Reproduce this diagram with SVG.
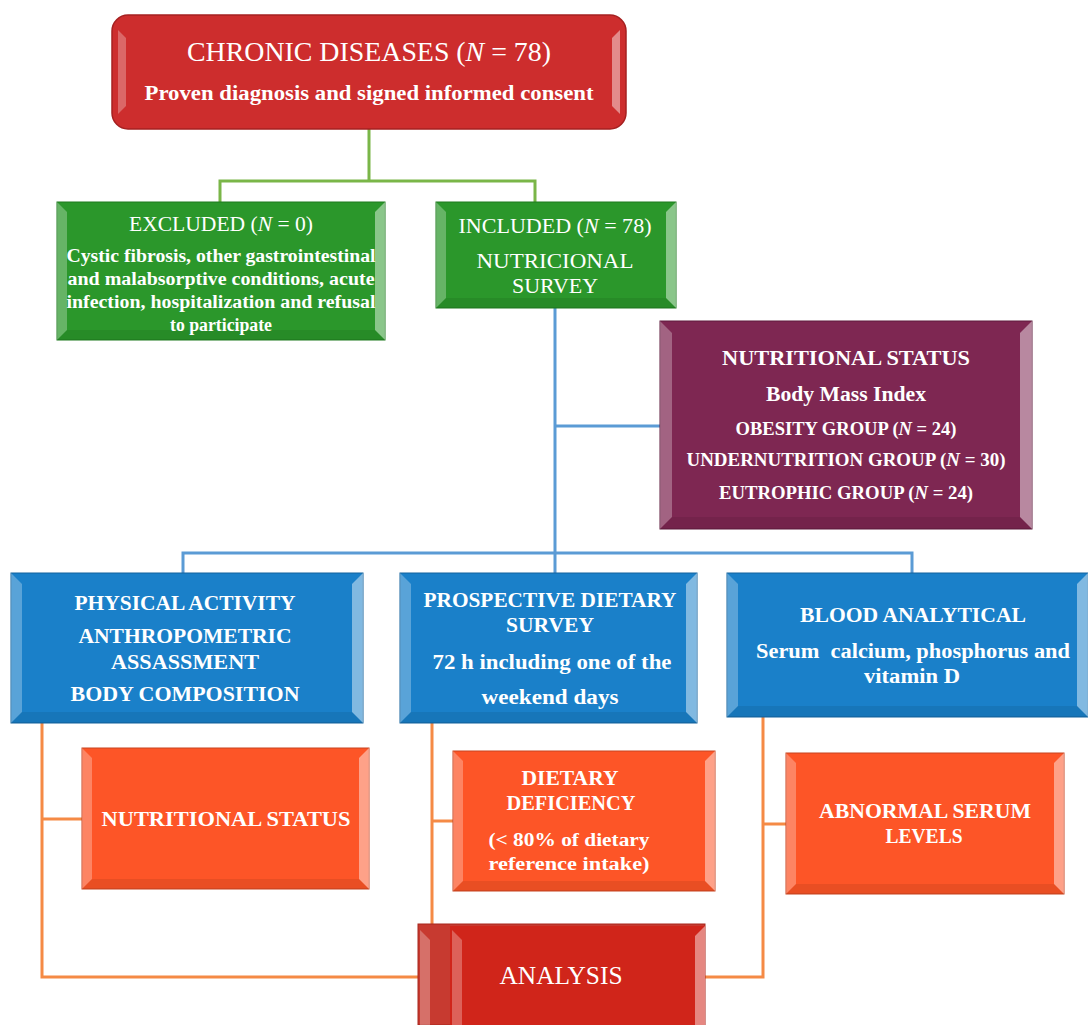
<svg xmlns="http://www.w3.org/2000/svg" width="1088" height="1025" viewBox="0 0 1088 1025">
<style>
.t{font-family:"Liberation Serif","Times New Roman",serif;fill:#fff;text-anchor:middle;font-weight:bold}
.n{font-weight:normal}
.i{font-style:italic}
.bl{fill:#fff;fill-opacity:0.28}
.br{fill:#fff;fill-opacity:0.45}
.bb{fill:#000;fill-opacity:0.08}
.cg{stroke:#7ab648;stroke-width:3;fill:none}
.cb{stroke:#5b9bd5;stroke-width:3;fill:none}
.co{stroke:#f58a45;stroke-width:3;fill:none}
</style>
<rect width="1088" height="1025" fill="#fff"/>
<g id="connectors">
<path class="cg" d="M369 129V181M220 204V181H535V204"/>
<path class="cb" d="M555 308V553M555 426H661M183 574V553H912V574M555 553V574"/>
<path class="co" d="M42 723V977H420M42 819H83M432 723V930M432 821H454M763 717V977H705M763 824H787"/>
</g>
<g id="chronic">
<rect x="112" y="15" width="514" height="114" rx="16" fill="#cd2d2d" stroke="#a52020" stroke-width="1.5"/>
<path d="M118 30 L126 38 V106 L118 114Z" class="bl"/>
<path d="M620 30 L612 38 V106 L620 114Z" class="br"/>
<text class="t n" x="369" y="61" font-size="27" textLength="364" lengthAdjust="spacingAndGlyphs">CHRONIC DISEASES (<tspan class="i">N</tspan> = 78)</text>
<text class="t" x="369" y="100" font-size="20.5" textLength="449" lengthAdjust="spacingAndGlyphs">Proven diagnosis and signed informed consent</text>
</g>
<g id="excluded">
<rect x="57" y="202" width="328" height="138" fill="#2b972b" stroke="#1f7a1f"/>
<path d="M57 202 L67 212 V330 L57 340Z" class="bl"/>
<path d="M385 202 L375 212 V330 L385 340Z" class="br"/>
<path d="M57 340 L67 330 H375 L385 340Z" class="bb"/>
<text class="t n" x="221" y="231" font-size="20.5" textLength="184" lengthAdjust="spacingAndGlyphs">EXCLUDED (<tspan class="i">N</tspan> = 0)</text>
<text class="t" x="221" y="262" font-size="18" textLength="309" lengthAdjust="spacingAndGlyphs">Cystic fibrosis, other gastrointestinal</text>
<text class="t" x="221" y="285" font-size="18" textLength="307" lengthAdjust="spacingAndGlyphs">and malabsorptive conditions, acute</text>
<text class="t" x="221" y="308" font-size="18" textLength="309" lengthAdjust="spacingAndGlyphs">infection, hospitalization and refusal</text>
<text class="t" x="221" y="331" font-size="18" textLength="102" lengthAdjust="spacingAndGlyphs">to participate</text>
</g>
<g id="included">
<rect x="436" y="202" width="240" height="106" fill="#2b972b" stroke="#1f7a1f"/>
<path d="M436 202 L446 212 V298 L436 308Z" class="bl"/>
<path d="M676 202 L666 212 V298 L676 308Z" class="br"/>
<path d="M436 308 L446 298 H666 L676 308Z" class="bb"/>
<text class="t n" x="555" y="233" font-size="20.5" textLength="193" lengthAdjust="spacingAndGlyphs">INCLUDED (<tspan class="i">N</tspan> = 78)</text>
<text class="t n" x="555" y="268" font-size="20.5" textLength="157" lengthAdjust="spacingAndGlyphs">NUTRICIONAL</text>
<text class="t n" x="555" y="293" font-size="20.5" textLength="86" lengthAdjust="spacingAndGlyphs">SURVEY</text>
</g>
<g id="nutritional-status">
<rect x="660" y="321" width="372" height="208" fill="#7e2752" stroke="#5e1a3c"/>
<path d="M660 321 L672 333 V517 L660 529Z" class="bl"/>
<path d="M1032 321 L1020 333 V517 L1032 529Z" class="br"/>
<path d="M660 529 L672 517 H1020 L1032 529Z" class="bb"/>
<text class="t" x="846" y="365" font-size="20.5" textLength="248" lengthAdjust="spacingAndGlyphs">NUTRITIONAL STATUS</text>
<text class="t" x="846" y="401" font-size="20.5" textLength="160" lengthAdjust="spacingAndGlyphs">Body Mass Index</text>
<text class="t" x="846" y="435" font-size="18" textLength="221" lengthAdjust="spacingAndGlyphs">OBESITY GROUP (<tspan class="i">N</tspan> = 24)</text>
<text class="t" x="846" y="466" font-size="18" textLength="319" lengthAdjust="spacingAndGlyphs">UNDERNUTRITION GROUP (<tspan class="i">N</tspan> = 30)</text>
<text class="t" x="846" y="499" font-size="18" textLength="254" lengthAdjust="spacingAndGlyphs">EUTROPHIC GROUP (<tspan class="i">N</tspan> = 24)</text>
</g>
<g id="physical">
<rect x="11" y="573" width="352" height="150" fill="#1a80c9" stroke="#13639e"/>
<path d="M11 573 L22 584 V712 L11 723Z" class="bl"/>
<path d="M363 573 L352 584 V712 L363 723Z" class="br"/>
<path d="M11 723 L22 712 H352 L363 723Z" class="bb"/>
<text class="t" x="185" y="610" font-size="20.5" textLength="221" lengthAdjust="spacingAndGlyphs">PHYSICAL ACTIVITY</text>
<text class="t" x="185" y="643" font-size="20.5" textLength="213" lengthAdjust="spacingAndGlyphs">ANTHROPOMETRIC</text>
<text class="t" x="185" y="669" font-size="20.5" textLength="148" lengthAdjust="spacingAndGlyphs">ASSASSMENT</text>
<text class="t" x="185" y="701" font-size="20.5" textLength="229" lengthAdjust="spacingAndGlyphs">BODY COMPOSITION</text>
</g>
<g id="dietary-survey">
<rect x="400" y="573" width="297" height="150" fill="#1a80c9" stroke="#13639e"/>
<path d="M400 573 L411 584 V712 L400 723Z" class="bl"/>
<path d="M697 573 L686 584 V712 L697 723Z" class="br"/>
<path d="M400 723 L411 712 H686 L697 723Z" class="bb"/>
<text class="t" x="550" y="607" font-size="20.5" textLength="253" lengthAdjust="spacingAndGlyphs">PROSPECTIVE DIETARY</text>
<text class="t" x="550" y="632" font-size="20.5" textLength="88" lengthAdjust="spacingAndGlyphs">SURVEY</text>
<text class="t" x="552" y="669" font-size="20.5" textLength="239" lengthAdjust="spacingAndGlyphs">72 h including one of the</text>
<text class="t" x="550" y="704" font-size="20.5" textLength="137" lengthAdjust="spacingAndGlyphs">weekend days</text>
</g>
<g id="blood">
<rect x="727" y="573" width="361" height="144" fill="#1a80c9" stroke="#13639e"/>
<path d="M727 573 L738 584 V706 L727 717Z" class="bl"/>
<path d="M1088 573 L1077 584 V706 L1088 717Z" class="br"/>
<path d="M727 717 L738 706 H1077 L1088 717Z" class="bb"/>
<text class="t" x="913" y="622" font-size="20.5" textLength="226" lengthAdjust="spacingAndGlyphs">BLOOD ANALYTICAL</text>
<text class="t" x="913" y="658" font-size="20.5" textLength="314" lengthAdjust="spacingAndGlyphs" style="white-space:pre">Serum  calcium, phosphorus and</text>
<text class="t" x="912" y="683" font-size="20.5" textLength="96" lengthAdjust="spacingAndGlyphs">vitamin D</text>
</g>
<g id="ns-outcome">
<rect x="82" y="748" width="287" height="141" fill="#fd5527" stroke="#c84520"/>
<path d="M82 748 L92 758 V879 L82 889Z" class="bl"/>
<path d="M369 748 L359 758 V879 L369 889Z" class="br"/>
<path d="M82 889 L92 879 H359 L369 889Z" class="bb"/>
<text class="t" x="226" y="826" font-size="20.5" textLength="249" lengthAdjust="spacingAndGlyphs">NUTRITIONAL STATUS</text>
</g>
<g id="dietary-deficiency">
<rect x="453" y="751" width="262" height="140" fill="#fd5527" stroke="#c84520"/>
<path d="M453 751 L463 761 V881 L453 891Z" class="bl"/>
<path d="M715 751 L705 761 V881 L715 891Z" class="br"/>
<path d="M453 891 L463 881 H705 L715 891Z" class="bb"/>
<text class="t" x="570" y="785" font-size="20.5" textLength="97" lengthAdjust="spacingAndGlyphs">DIETARY</text>
<text class="t" x="571" y="810" font-size="20.5" textLength="129" lengthAdjust="spacingAndGlyphs">DEFICIENCY</text>
<text class="t" x="569" y="846" font-size="18.5" textLength="161" lengthAdjust="spacingAndGlyphs">(&lt; 80% of dietary</text>
<text class="t" x="569" y="870" font-size="18.5" textLength="161" lengthAdjust="spacingAndGlyphs">reference intake)</text>
</g>
<g id="abnormal-serum">
<rect x="786" y="753" width="278" height="141" fill="#fd5527" stroke="#c84520"/>
<path d="M786 753 L796 763 V884 L786 894Z" class="bl"/>
<path d="M1064 753 L1054 763 V884 L1064 894Z" class="br"/>
<path d="M786 894 L796 884 H1054 L1064 894Z" class="bb"/>
<text class="t" x="925" y="818" font-size="20.5" textLength="212" lengthAdjust="spacingAndGlyphs">ABNORMAL SERUM</text>
<text class="t" x="924" y="843" font-size="20.5" textLength="77" lengthAdjust="spacingAndGlyphs">LEVELS</text>
</g>
<g id="analysis">
<rect x="418" y="924" width="287" height="101" fill="#c73a30" stroke="#a8261c"/>
<rect x="450" y="926" width="255" height="99" fill="#d0251a"/>
<path d="M420 930 L430 940 V1025 H420Z" class="bl"/>
<path d="M452 930 L462 940 V1025 H452Z" class="bl"/>
<path d="M705 926 L695 936 V1025 H705Z" class="br"/>
<text class="t n" x="561" y="984" font-size="26" textLength="123" lengthAdjust="spacingAndGlyphs">ANALYSIS</text>
</g>
</svg>
